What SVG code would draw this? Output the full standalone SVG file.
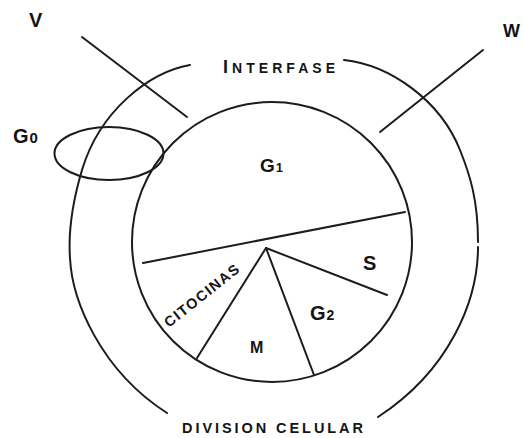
<svg xmlns="http://www.w3.org/2000/svg" width="523" height="438" viewBox="0 0 523 438">
  <style>
    .ln { fill: none; stroke: #1c1c1c; stroke-width: 2; stroke-linecap: round; stroke-linejoin: round; }
    .t { font-family: "Liberation Sans", Arial, sans-serif; font-weight: bold; fill: #141414; }
  </style>
  <rect x="0" y="0" width="523" height="438" fill="#ffffff"/>

  <g id="outer-arcs">
    <path class="ln" d="M190,65 C150,72 100,110 82,170 C74,197 68,230 70,258 C72,300 100,370 167,413"/>
    <path class="ln" d="M344,60 C390,65 440,100 460,150 C470,175 478,200 478,242"/>
    <path class="ln" d="M478,247 C478,300 450,370 378,417"/>
  </g>

  <g id="cell-cycle">
    <circle class="ln" cx="272" cy="242" r="140"/>
  </g>

  <g id="g0">
    <ellipse class="ln" cx="109" cy="153.5" rx="54.5" ry="26.5"/>
    <text class="t" x="13" y="143" font-size="20">G<tspan font-size="15" dx="1">0</tspan></text>
  </g>

  <g id="connectors">
    <line class="ln" x1="82" y1="37" x2="187" y2="117"/>
    <line class="ln" x1="483" y1="50" x2="380" y2="132"/>
    <line class="ln" x1="143" y1="263" x2="405" y2="212"/>
    <line class="ln" x1="266" y1="248" x2="197" y2="358"/>
    <line class="ln" x1="266" y1="248" x2="314" y2="375"/>
    <line class="ln" x1="266" y1="248" x2="387" y2="295"/>
  </g>

  <g id="v"><text class="t" x="29" y="27" font-size="20">V</text></g>
  <g id="w"><text class="t" x="503" y="37" font-size="18">W</text></g>
  <g id="interfase"><text class="t" x="223" y="73" font-size="14" textLength="112" lengthAdjust="spacing"><tspan font-size="18">I</tspan>NTERFASE</text></g>
  <g id="g1"><text class="t" x="260" y="172" font-size="19">G<tspan font-size="13" dx="1">1</tspan></text></g>
  <g id="s"><text class="t" x="363" y="270" font-size="20">S</text></g>
  <g id="g2"><text class="t" x="310" y="320" font-size="20">G<tspan font-size="14" dx="1">2</tspan></text></g>
  <g id="m"><text class="t" x="250" y="353" font-size="16">M</text></g>
  <g id="citocinas"><text class="t" x="0" y="0" font-size="14.5" textLength="91" lengthAdjust="spacing" transform="translate(169,328) rotate(-38.5)">CITOCINAS</text></g>
  <g id="division"><text class="t" x="182" y="433" font-size="14.5" textLength="181" lengthAdjust="spacing">DIVISION CELULAR</text></g>
</svg>
